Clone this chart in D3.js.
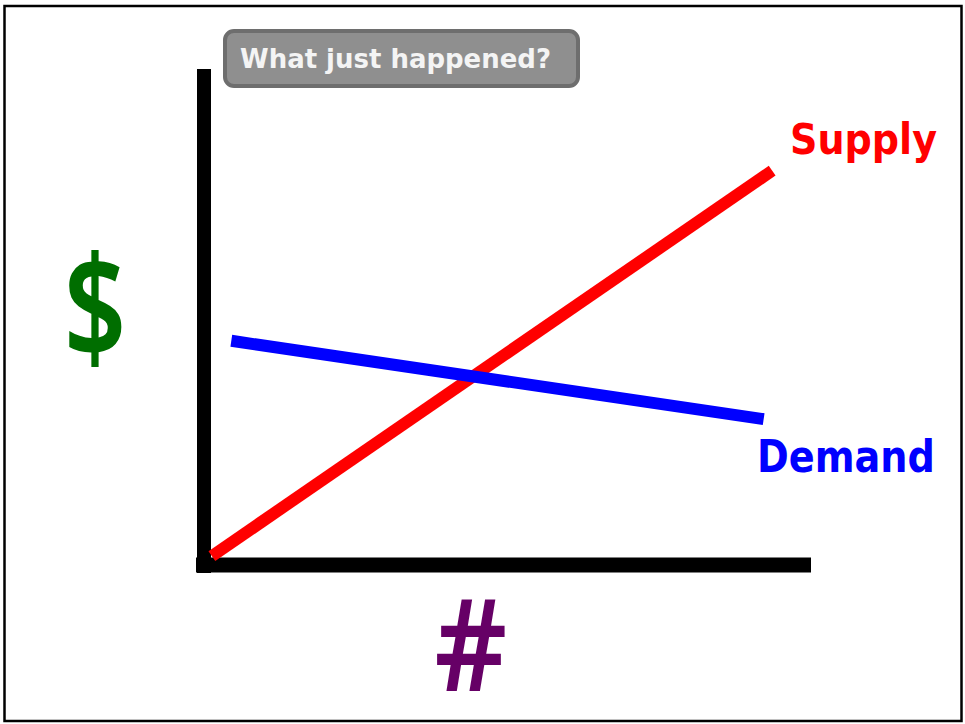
<!DOCTYPE html>
<html><head><meta charset="utf-8">
<script src="https://cdn.jsdelivr.net/npm/d3@7"></script>
<style>body{margin:0;background:#fff}svg{display:block}text{font-family:"DejaVu Sans",sans-serif;font-weight:bold}</style>
</head><body>
<script>
// Data (unitless model units 0..100)
const supplyX = [1.3, 93.6];
const supplyY = [1.8, 79.5];
const demandX = [4.5, 92.2];
const demandY = [45.2, 29.4];
const labels = {supply: "Supply", demand: "Demand", yAxis: "$", xAxis: "#", note: "What just happened?"};

const W = 965, H = 724;
const svg = d3.select("body").append("svg").attr("width", W).attr("height", H);

svg.append("rect").attr("x", 4.5).attr("y", 6).attr("width", 957).attr("height", 715)
  .attr("fill", "#fff").attr("stroke", "#000").attr("stroke-width", 2.5);

const x = d3.scaleLinear().domain([0, 100]).range([204, 811]);
const y = d3.scaleLinear().domain([0, 100]).range([565, 69]);

// axes
svg.append("line").attr("x1", x(0)).attr("x2", x(0)).attr("y1", y(100)).attr("y2", y(0) + 8)
  .attr("stroke", "#000").attr("stroke-width", 14);
svg.append("line").attr("x1", x(0) - 8).attr("x2", x(100)).attr("y1", y(0)).attr("y2", y(0))
  .attr("stroke", "#000").attr("stroke-width", 15);

const line = d3.line().x(d => x(d[0])).y(d => y(d[1]));
svg.append("path").attr("d", line(d3.zip(supplyX, supplyY))).attr("stroke", "#ff0000")
  .attr("stroke-width", 12).attr("fill", "none");
svg.append("path").attr("d", line(d3.zip(demandX, demandY))).attr("stroke", "#0000ff")
  .attr("stroke-width", 12).attr("fill", "none");

svg.append("text").attr("x", 790).attr("y", 154).attr("font-size", 42).attr("fill", "#ff0000")
  .attr("textLength", 147).attr("lengthAdjust", "spacingAndGlyphs").text(labels.supply);
svg.append("text").attr("x", 757).attr("y", 472).attr("font-size", 44).attr("fill", "#0000ff")
  .attr("textLength", 178).attr("lengthAdjust", "spacingAndGlyphs").text(labels.demand);

svg.append("g").attr("transform", "translate(95,358) scale(0.78,1.02)")
  .append("text").attr("font-size", 140).attr("fill", "#006e00")
  .attr("text-anchor", "middle").style("font-weight", "600")
  .style("font-family", "'Noto Sans', sans-serif").text(labels.yAxis);
svg.append("g").attr("transform", "translate(471,691) scale(0.88,1)")
  .append("text").attr("font-size", 128).attr("fill", "#660066")
  .attr("text-anchor", "middle").style("font-weight", "600")
  .style("font-family", "'Noto Sans', sans-serif").text(labels.xAxis);

svg.append("rect").attr("x", 225).attr("y", 31).attr("width", 353).attr("height", 55).attr("rx", 9)
  .attr("fill", "#8f8f8f").attr("stroke", "#6e6e6e").attr("stroke-width", 4);
svg.append("text").attr("x", 240).attr("y", 68).attr("font-size", 27).attr("fill", "#f4f4f4")
  .attr("textLength", 311).attr("lengthAdjust", "spacingAndGlyphs").text(labels.note);
</script>
</body></html>
